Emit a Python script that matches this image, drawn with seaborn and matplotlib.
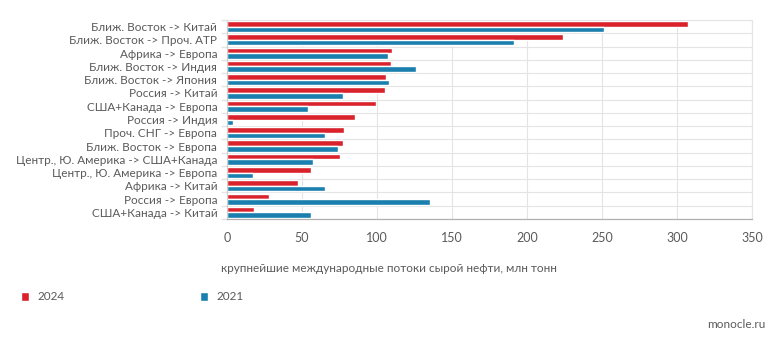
import matplotlib
matplotlib.use("Agg")
import matplotlib.pyplot as plt
import seaborn as sns
import pandas as pd
from matplotlib.ticker import FixedLocator

routes = [
    "Ближ. Восток -> Китай",
    "Ближ. Восток -> Проч. АТР",
    "Африка -> Европа",
    "Ближ. Восток -> Индия",
    "Ближ. Восток -> Япония",
    "Россия -> Китай",
    "США+Канада -> Европа",
    "Россия -> Индия",
    "Проч. СНГ -> Европа",
    "Ближ. Восток -> Европа",
    "Центр., Ю. Америка -> США+Канада",
    "Центр., Ю. Америка -> Европа",
    "Африка -> Китай",
    "Россия -> Европа",
    "США+Канада -> Китай",
]
flows_2024 = [307, 224, 110, 109, 106, 105, 99, 85, 78, 77, 75, 56, 47, 28, 18]
flows_2021 = [251, 191, 107, 126, 108, 77, 54, 4, 65, 74, 57, 17, 65, 135, 56]
years = ["2024", "2021"]
x_ticks = [0, 50, 100, 150, 200, 250, 300, 350]

df = pd.DataFrame({
    "route": routes * 2,
    "year": [years[0]] * len(routes) + [years[1]] * len(routes),
    "value": flows_2024 + flows_2021,
})

sns.set_theme(style="white")
plt.rcParams["font.family"] = ["Lato", "DejaVu Sans"]

text_color = "#5a5a5a"
grid_color = "#e4e4e4"
palette = {"2024": "#d9222c", "2021": "#1a7fae"}
fs = 8.5

fig = plt.figure(figsize=(7.84, 3.49), dpi=100)
ax = fig.add_axes([227 / 784, 1 - 219 / 349, (752 - 227) / 784, (219 - 20) / 349])

sns.barplot(data=df, y="route", x="value", hue="year", hue_order=years,
            order=routes, palette=palette, orient="h", width=0.84,
            saturation=1, ax=ax, legend=True)

ax.set_xlim(0, 350)
ax.set_ylim(len(routes) - 0.5, -0.5)
ax.set_xticks(x_ticks)
ax.set_xticklabels([str(t) for t in x_ticks])
ax.yaxis.set_minor_locator(FixedLocator([i - 0.5 for i in range(len(routes) + 1)]))

ax.grid(axis="x", which="major", color=grid_color, linewidth=0.8)
ax.grid(axis="y", which="minor", color=grid_color, linewidth=0.8)
ax.grid(axis="y", which="major", visible=False)
ax.set_axisbelow(True)

for side in ["top", "right"]:
    ax.spines[side].set_color(grid_color)
    ax.spines[side].set_linewidth(0.8)
ax.spines["left"].set_color("#cfcfcf")
ax.spines["left"].set_linewidth(0.8)
ax.spines["bottom"].set_color("#b0b0b0")
ax.spines["bottom"].set_linewidth(0.9)

ax.tick_params(axis="x", which="major", length=4, color="#b0b0b0", labelsize=9,
               labelcolor=text_color, pad=5)
ax.tick_params(axis="y", which="major", length=0, labelsize=fs, labelcolor=text_color, pad=7)
ax.tick_params(axis="y", which="minor", length=4, color=grid_color, left=True)
ax.set_xlabel("")
ax.set_ylabel("")

handles, labels = ax.get_legend_handles_labels()
ax.get_legend().remove()
fig.legend(handles, labels, loc="center left", bbox_to_anchor=(10 / 784, 1 - 297 / 349),
           ncol=2, frameon=False, handlelength=0.7, handleheight=0.8, handletextpad=0.7,
           columnspacing=11.5, prop={"size": fs}, labelcolor=text_color)

fig.text(389 / 784, 1 - 268 / 349, "крупнейшие международные потоки сырой нефти, млн тонн",
         ha="center", va="center", fontsize=fs, color=text_color)
fig.text(765 / 784, 1 - 325 / 349, "monocle.ru", ha="right", va="center",
         fontsize=fs, color=text_color)

fig.savefig("out.png", dpi=100)
